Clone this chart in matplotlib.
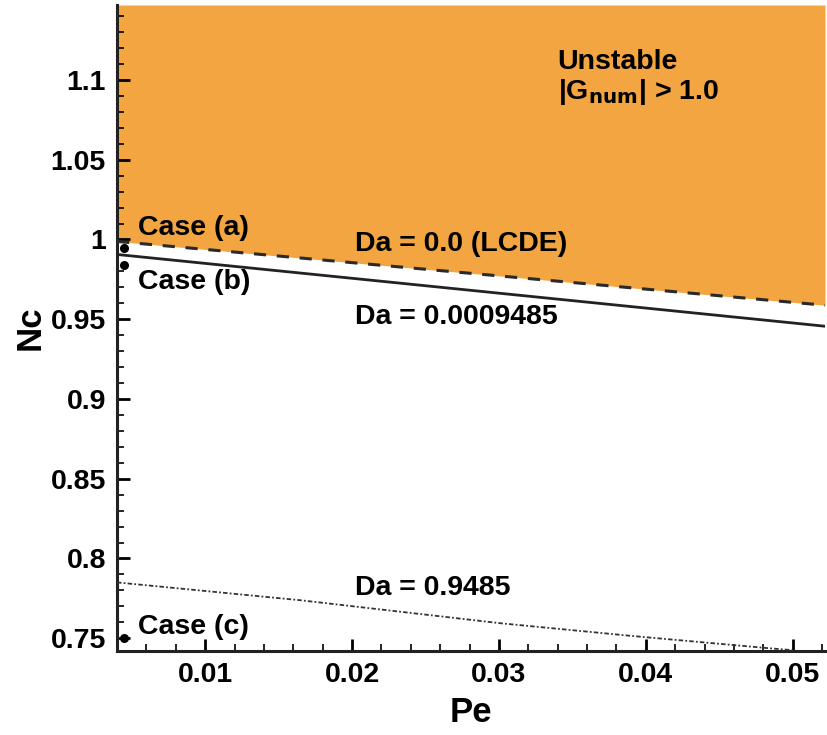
import matplotlib.pyplot as plt
import numpy as np
from matplotlib.ticker import MultipleLocator

plt.rcParams['font.family'] = ['Liberation Sans', 'DejaVu Sans']
plt.rcParams['font.weight'] = 'bold'

# stability boundaries Nc(Pe)
pe_lcde = [0.004, 0.0522]
nc_lcde = [0.99875, 0.95875]

pe_da1 = [0.004, 0.0522]
nc_da1 = [0.9906, 0.9456]

pe_da2 = [0.004, 0.0165, 0.0301, 0.0392, 0.0483, 0.0500]
nc_da2 = [0.7850, 0.7738, 0.7594, 0.7513, 0.7438, 0.7425]

# test cases
case_pe = [0.0045, 0.0045, 0.0045]
case_nc = [0.9944, 0.9840, 0.7500]
case_labels = ["Case (a)", "Case (b)", "Case (c)"]

orange = "#F2A540"
xlim = (0.004, 0.0522)
ylim = (0.742, 1.147)

fig = plt.figure(figsize=(8.27, 7.35), dpi=100)
ax = fig.add_axes([0.1415, 0.1143, 0.8561, 0.8789])

pe_fill = np.array(pe_lcde)
ax.fill_between(pe_fill, nc_lcde, ylim[1], color=orange, lw=0, zorder=0)

ax.plot(pe_lcde, nc_lcde, color="#2a2a2a", lw=2.2, ls=(0, (4, 3.5)), zorder=3)
ax.plot(pe_da1, nc_da1, color="#222222", lw=2.0, zorder=3)
ax.plot(pe_da2, nc_da2, color="#333333", lw=1.3, ls=(0, (2.5, 1.2, 1, 1.2)), zorder=3)

ax.plot(case_pe, case_nc, "o", color="black", ms=5.5, zorder=4, clip_on=False)

fs = 20.5
ax.text(0.0054, 1.0031, case_labels[0], fontsize=fs, fontweight="bold", va="baseline")
ax.text(0.0054, 0.9688, case_labels[1], fontsize=fs, fontweight="bold", va="baseline")
ax.text(0.0054, 0.7525, case_labels[2], fontsize=fs, fontweight="bold", va="baseline")
ax.text(0.0202, 0.9925, "Da = 0.0 (LCDE)", fontsize=fs, fontweight="bold", va="baseline")
ax.text(0.0202, 0.9469, "Da = 0.0009485", fontsize=fs, fontweight="bold", va="baseline")
ax.text(0.0202, 0.7769, "Da = 0.9485", fontsize=fs, fontweight="bold", va="baseline")
ax.text(0.0340, 1.1069, "Unstable", fontsize=fs, fontweight="bold", va="baseline")
ax.text(0.0340, 1.0881, r"|G$_{\mathbf{num}}$| > 1.0", fontsize=fs, fontweight="bold",
        va="baseline")

ax.set_xlim(*xlim)
ax.set_ylim(*ylim)

ax.xaxis.set_major_locator(MultipleLocator(0.01))
ax.xaxis.set_minor_locator(MultipleLocator(0.002))
ax.yaxis.set_major_locator(MultipleLocator(0.05))
ax.yaxis.set_minor_locator(MultipleLocator(0.01))
ax.set_xticks([0.01, 0.02, 0.03, 0.04, 0.05])
ax.set_xticklabels(["0.01", "0.02", "0.03", "0.04", "0.05"])
ax.set_yticks([0.75, 0.8, 0.85, 0.9, 0.95, 1.0, 1.05, 1.1])
ax.set_yticklabels(["0.75", "0.8", "0.85", "0.9", "0.95", "1", "1.05", "1.1"])

ax.tick_params(which="major", direction="in", length=9, width=2, labelsize=20.5, pad=8)
ax.tick_params(which="minor", direction="in", length=5, width=1.2)
for lab in ax.get_xticklabels() + ax.get_yticklabels():
    lab.set_fontweight("bold")

for side in ("top", "right"):
    ax.spines[side].set_visible(False)
for side in ("left", "bottom"):
    ax.spines[side].set_linewidth(2.2)
    ax.spines[side].set_color("#222222")

ax.set_xlabel("Pe", fontsize=25, fontweight="bold", labelpad=6)
ax.set_ylabel("Nc", fontsize=25, fontweight="bold", labelpad=3)

fig.savefig("out.png", dpi=100)
